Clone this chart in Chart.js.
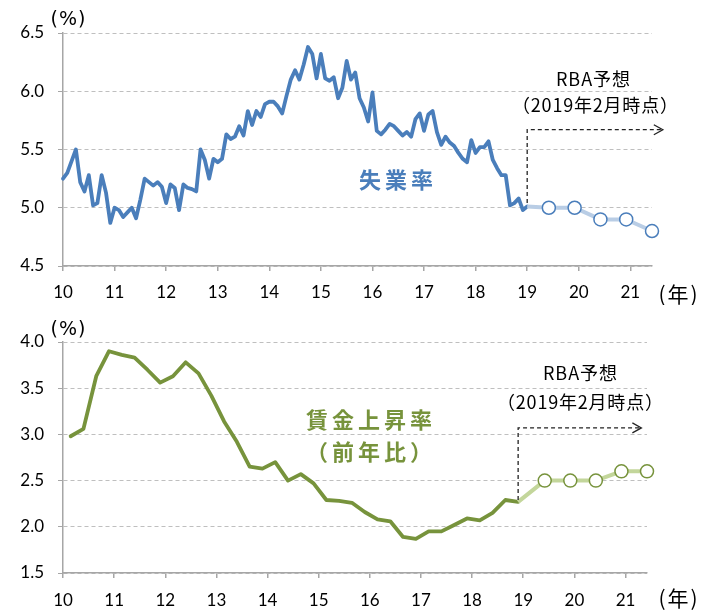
<!DOCTYPE html>
<html>
<head>
<meta charset="utf-8">
<script src="https://cdn.jsdelivr.net/npm/chart.js@4.4.0/dist/chart.umd.min.js"></script>
<style>
body { margin: 0; background: #fff; }
#wrap { position: relative; width: 712px; height: 610px; }
.box { position: absolute; left: 0; width: 712px; height: 305px; }
</style>
</head>
<body>
<div id="wrap">
  <div class="box" style="top:0"><canvas id="unemp-chart" width="712" height="305"></canvas></div>
  <div class="box" style="top:305px"><canvas id="wage-chart" width="712" height="305"></canvas></div>
</div>
<script>
// year tick labels (10 = 2010 ...)
const yearTicks = [2010, 2011, 2012, 2013, 2014, 2015, 2016, 2017, 2018, 2019, 2020, 2021];
const yearLabels = ['10', '11', '12', '13', '14', '15', '16', '17', '18', '19', '20', '21'];

// unemployment rate, monthly Jan 2010 - Jan 2019 (%)
const unempStartYear = 2010;
const unempRate = [
    5.25, 5.30, 5.40, 5.50, 5.22, 5.14, 5.28, 5.02, 5.04, 5.28, 5.13, 4.87,
    5.00, 4.98, 4.92, 4.96, 5.00, 4.91, 5.07, 5.25, 5.22, 5.19, 5.22, 5.18,
    5.04, 5.20, 5.17, 4.98, 5.20, 5.17, 5.16, 5.14, 5.50, 5.41, 5.25, 5.42,
    5.39, 5.42, 5.63, 5.59, 5.61, 5.70, 5.62, 5.83, 5.71, 5.83, 5.78, 5.89,
    5.91, 5.91, 5.87, 5.81, 5.96, 6.10, 6.18, 6.10, 6.23, 6.38, 6.32, 6.11,
    6.32, 6.11, 6.09, 6.12, 5.94, 6.03, 6.26, 6.10, 6.16, 5.94, 5.86, 5.74,
    5.99, 5.66, 5.63, 5.67, 5.72, 5.70, 5.66, 5.62, 5.65, 5.61, 5.76, 5.81,
    5.66, 5.80, 5.83, 5.65, 5.54, 5.61, 5.56, 5.53, 5.47, 5.42, 5.39, 5.58,
    5.47, 5.52, 5.52, 5.57, 5.41, 5.34, 5.28, 5.28, 5.02, 5.04, 5.08, 4.98,
    5.01
];

// wage growth, quarterly 2010Q1 - 2018Q4 (% y/y)
const wageStartYear = 2010;
const wageGrowth = [
    2.98, 3.06, 3.63, 3.90,
    3.86, 3.83, 3.70, 3.56,
    3.63, 3.78, 3.66, 3.42,
    3.14, 2.92, 2.65, 2.63,
    2.70, 2.50, 2.57, 2.47,
    2.29, 2.28, 2.26, 2.16,
    2.08, 2.06, 1.89, 1.87,
    1.95, 1.95, 2.02, 2.09,
    2.07, 2.15, 2.29, 2.27
];

// RBA forecast (Feb 2019), Jun / Dec points
const forecastDates = [2019.42, 2019.92, 2020.42, 2020.92, 2021.42];
const unempForecast = [5.0, 5.0, 4.9, 4.9, 4.8];
const wageForecast = [2.5, 2.5, 2.5, 2.6, 2.6];

const BLUE = '#4a7ebb';
const LIGHT_BLUE = '#b9cde5';
const GREEN = '#77933c';
const LIGHT_GREEN = '#c3d69b';
const JP_FONT = '"Noto Sans CJK JP", "Noto Sans", sans-serif';

const monthly = unempRate.map((v, i) => ({ x: unempStartYear + i / 12, y: v }));
const quarterly = wageGrowth.map((v, i) => ({ x: wageStartYear + (i * 3 + 1.8) / 12, y: v }));

function forecastLine(actual, values) {
    const last = actual[actual.length - 1];
    return [last].concat(values.map((v, i) => ({ x: forecastDates[i], y: v })));
}

// texts and dashed arrow on top of the chart
const annotate = {
    id: 'annotate',
    afterDraw(chart, args, opts) {
        const { ctx, scales: { x, y } } = chart;
        ctx.save();
        opts.texts.forEach(t => {
            ctx.font = t.font;
            ctx.fillStyle = t.color || '#000';
            ctx.textAlign = 'center';
            ctx.textBaseline = 'middle';
            ctx.letterSpacing = (t.spacing || 0) + 'px';
            ctx.fillText(t.text, t.x + (t.spacing || 0) / 2, t.y);
        });
        ctx.letterSpacing = '0px';

        const a = opts.arrow;
        const x0 = x.getPixelForValue(a.fromX);
        const y0 = y.getPixelForValue(a.fromY);
        const y1 = y.getPixelForValue(a.toY);
        const x1 = x.getPixelForValue(a.toX);
        ctx.strokeStyle = '#222';
        ctx.lineWidth = 1.3;
        ctx.setLineDash([4, 3]);
        ctx.beginPath();
        ctx.moveTo(x0, y0);
        ctx.lineTo(x0, y1);
        ctx.lineTo(x1 - 1, y1);
        ctx.stroke();
        ctx.setLineDash([]);
        ctx.beginPath();
        ctx.moveTo(x1 - 9, y1 - 5);
        ctx.lineTo(x1, y1);
        ctx.lineTo(x1 - 9, y1 + 5);
        ctx.stroke();
        ctx.restore();
    }
};

function buildChart(canvasId, opts) {
    return new Chart(document.getElementById(canvasId), {
        type: 'line',
        data: {
            datasets: [
                {
                    data: opts.forecast,
                    borderColor: opts.lightColor,
                    borderWidth: 4,
                    pointRadius: ctx => ctx.dataIndex === 0 ? 0 : 6.5,
                    pointBackgroundColor: '#fff',
                    pointBorderColor: opts.color,
                    pointBorderWidth: 1.5,
                    tension: 0,
                    clip: false
                },
                {
                    data: opts.actual,
                    borderColor: opts.color,
                    borderWidth: 3.8,
                    borderJoinStyle: 'round',
                    borderCapStyle: 'round',
                    pointRadius: 0,
                    tension: 0,
                    clip: false
                }
            ]
        },
        options: {
            responsive: false,
            animation: false,
            events: [],
            layout: { padding: { top: opts.top, right: opts.right, bottom: 0, left: 0 } },
            plugins: {
                legend: { display: false },
                tooltip: { enabled: false },
                annotate: { texts: opts.texts, arrow: opts.arrow }
            },
            scales: {
                x: {
                    type: 'linear',
                    min: 2010,
                    max: 2021.42,
                    afterFit: s => { s.height = opts.xHeight; },
                    afterBuildTicks: s => { s.ticks = yearTicks.map(v => ({ value: v })); },
                    grid: { drawOnChartArea: false, drawTicks: true, tickLength: 5, color: '#a6a6a6', lineWidth: 1.5 },
                    border: { color: '#a6a6a6', width: 1.5 },
                    ticks: {
                        autoSkip: false,
                        maxRotation: 0,
                        padding: opts.xPad,
                        color: '#000',
                        font: { family: 'Lato', size: 17 },
                        callback: v => yearLabels[yearTicks.indexOf(v)]
                    }
                },
                y: {
                    min: opts.yMin,
                    max: opts.yMax,
                    afterFit: s => { s.width = 63; },
                    grid: { color: '#bfbfbf', lineWidth: 1, tickLength: 5, tickColor: '#a6a6a6' },
                    border: { color: '#a6a6a6', width: 1.5, dash: [4, 3] },
                    ticks: {
                        stepSize: 0.5,
                        padding: 14,
                        color: '#000',
                        font: { family: 'Lato', size: 17 },
                        callback: v => v.toFixed(1)
                    }
                }
            }
        },
        plugins: [annotate]
    });
}

buildChart('unemp-chart', {
    actual: monthly,
    forecast: forecastLine(monthly, unempForecast),
    color: BLUE,
    lightColor: LIGHT_BLUE,
    yMin: 4.5, yMax: 6.5,
    top: 33, right: 60, xHeight: 39, xPad: 11,
    arrow: { fromX: 2019.0, fromY: 5.04, toY: 5.67, toX: 2021.63 },
    texts: [
        { text: '(%)', x: 68, y: 20, font: '19px "DejaVu Sans"', spacing: 1 },
        { text: '(年)', x: 678, y: 294, font: '21px ' + JP_FONT, spacing: 2 },
        { text: 'RBA予想', x: 593, y: 79, font: '18px ' + JP_FONT, spacing: 1 },
        { text: '（2019年2月時点）', x: 595, y: 105, font: '18px ' + JP_FONT, spacing: 0.8 },
        { text: '失業率', x: 396, y: 180, font: 'bold 22px ' + JP_FONT, color: BLUE, spacing: 4 }
    ]
});

buildChart('wage-chart', {
    actual: quarterly,
    forecast: forecastLine(quarterly, wageForecast),
    color: GREEN,
    lightColor: LIGHT_GREEN,
    yMin: 1.5, yMax: 4.0,
    top: 37, right: 65, xHeight: 37, xPad: 12,
    arrow: { fromX: quarterly[quarterly.length - 1].x, fromY: 2.29, toY: 3.07, toX: 2021.31 },
    texts: [
        { text: '(%)', x: 68, y: 25, font: '19px "DejaVu Sans"', spacing: 1 },
        { text: '(年)', x: 678, y: 293, font: '21px ' + JP_FONT, spacing: 2 },
        { text: 'RBA予想', x: 580, y: 68, font: '18px ' + JP_FONT, spacing: 1 },
        { text: '（2019年2月時点）', x: 580, y: 97, font: '18px ' + JP_FONT, spacing: 0.8 },
        { text: '賃金上昇率', x: 369, y: 115, font: 'bold 22px ' + JP_FONT, color: GREEN, spacing: 4 },
        { text: '（前年比）', x: 369, y: 147, font: 'bold 22px ' + JP_FONT, color: GREEN, spacing: 4 }
    ]
});
</script>
</body>
</html>
